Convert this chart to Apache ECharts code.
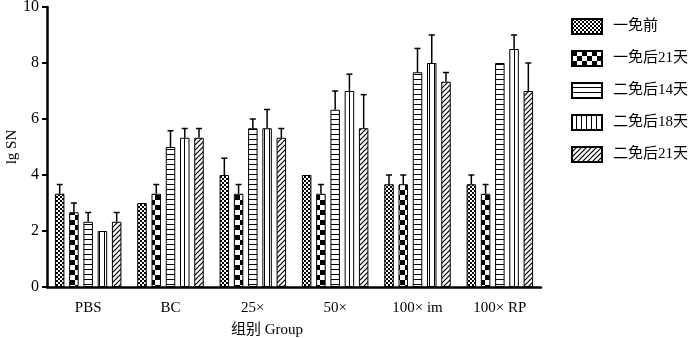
<!DOCTYPE html>
<html><head><meta charset="utf-8">
<script src="https://cdn.jsdelivr.net/npm/echarts@6/dist/echarts.min.js"></script>
<style>html,body{margin:0;padding:0;background:#fff}#c{width:700px;height:338px}</style>
</head><body><div id="c"></div>
<script>
const categories = ['PBS', 'BC', '25×', '50×', '100× im', '100× RP'];
const seriesNames = ['一免前', '一免后21天', '二免后14天', '二免后18天', '二免后21天'];
const vPre   = [3.33, 3.0, 4.0, 4.0, 3.67, 3.67];
const vD21   = [2.67, 3.33, 3.33, 3.33, 3.67, 3.33];
const vB14   = [2.33, 5.0, 5.67, 6.33, 7.67, 8.0];
const vB18   = [2.0, 5.33, 5.67, 7.0, 8.0, 8.5];
const vB21   = [2.33, 5.33, 5.33, 5.67, 7.33, 7.0];
const ePre   = [0.33, 0, 0.6, 0, 0.33, 0.33];
const eD21   = [0.33, 0.33, 0.33, 0.33, 0.33, 0.33];
const eB14   = [0.33, 0.58, 0.33, 0.67, 0.85, 0];
const eB18   = [0, 0.33, 0.67, 0.6, 1.0, 0.5];
const eB21   = [0.33, 0.33, 0.33, 1.2, 0.33, 1.0];
const yTicks = [0, 2, 4, 6, 8, 10];

const values = [vPre, vD21, vB14, vB18, vB21];
const errors = [ePre, eD21, eB14, eB18, eB21];

function mk(w, h, draw) {
  const c = document.createElement('canvas');
  c.width = w; c.height = h;
  const g = c.getContext('2d');
  g.fillStyle = '#fff'; g.fillRect(0, 0, w, h);
  g.fillStyle = '#000'; g.strokeStyle = '#000';
  draw(g);
  return { image: c, repeat: 'repeat' };
}
const patterns = [
  mk(4, 4, g => { g.fillRect(0, 0, 2, 2); g.fillRect(2, 2, 2, 2); }),
  mk(10, 10, g => { g.fillRect(0, 0, 5, 5); g.fillRect(5, 5, 5, 5); }),
  mk(4, 5, g => { g.fillRect(0, 4, 4, 1.2); }),
  mk(5, 4, g => { g.fillRect(4, 0, 1.2, 4); }),
  mk(5, 5, g => { g.lineWidth = 1.2; g.beginPath(); g.moveTo(-1, 6); g.lineTo(6, -1); g.moveTo(-1, 1); g.lineTo(1, -1); g.moveTo(4, 6); g.lineTo(6, 4); g.stroke(); })
];

const FONT = "'Liberation Serif','Times New Roman','Noto Sans CJK SC',serif";
const BAR_W = 9.5, BAR_GAP = 0.5;
const pitch = BAR_W * (1 + BAR_GAP);

const series = [];
seriesNames.forEach((name, i) => {
  series.push({
    name, type: 'bar', data: values[i], barWidth: BAR_W, barGap: (BAR_GAP * 100) + '%',
    itemStyle: { color: patterns[i], borderColor: '#000', borderWidth: 1 },
    emphasis: { disabled: true }, animation: false
  });
});
seriesNames.forEach((name, i) => {
  series.push({
    name: name + '_err', type: 'custom', animation: false, z: 3,
    data: values[i].map((v, k) => [k, v, errors[i][k]]),
    renderItem: (params, api) => {
      const e = api.value(2);
      if (!e) return null;
      const base = api.coord([api.value(0), api.value(1)]);
      const top = api.coord([api.value(0), api.value(1) + e]);
      const x = base[0] + (i - 2) * pitch;
      return { type: 'group', children: [
        { type: 'line', shape: { x1: x, y1: base[1], x2: x, y2: top[1] }, style: { stroke: '#000', lineWidth: 1.5 } },
        { type: 'line', shape: { x1: x - 3, y1: top[1], x2: x + 3, y2: top[1] }, style: { stroke: '#000', lineWidth: 1.5 } }
      ]};
    }
  });
});

const chart = echarts.init(document.getElementById('c'), null, { renderer: 'canvas' });
chart.setOption({
  backgroundColor: '#fff',
  animation: false,
  grid: { left: 47, right: 159, top: 7, bottom: 51, containLabel: false, outerBoundsMode: 'none' },
  legend: {
    data: seriesNames, orient: 'vertical', left: 571, top: 18, itemGap: 15, padding: 0,
    itemWidth: 30, itemHeight: 15, icon: 'rect',
    textStyle: { fontFamily: FONT, fontSize: 15, color: '#000', padding: [0, 0, 0, 6] },
    selectedMode: false
  },
  xAxis: {
    type: 'category', data: categories,
    name: '组别 Group', nameLocation: 'middle', nameGap: 36, nameMoveOverlap: false,
    nameTextStyle: { fontFamily: FONT, fontSize: 15, color: '#000', padding: [0, 54, 0, 0] },
    axisLine: { lineStyle: { color: '#000', width: 2.5 } },
    axisTick: { alignWithLabel: true, length: 5, lineStyle: { width: 2, color: '#000' } },
    axisLabel: { fontFamily: FONT, fontSize: 15, color: '#000', margin: 14 }
  },
  yAxis: {
    type: 'value', min: yTicks[0], max: yTicks[yTicks.length - 1], interval: 2,
    name: 'lg SN', nameLocation: 'middle', nameGap: 27, nameMoveOverlap: false,
    nameTextStyle: { fontFamily: FONT, fontSize: 15, color: '#000' },
    axisLine: { show: true, lineStyle: { color: '#000', width: 2.5 } },
    axisTick: { show: true, length: 5, lineStyle: { width: 2, color: '#000' } },
    axisLabel: { fontFamily: FONT, fontSize: 16, color: '#000', margin: 8 },
    splitLine: { show: false }
  },
  series
});
</script></body></html>
